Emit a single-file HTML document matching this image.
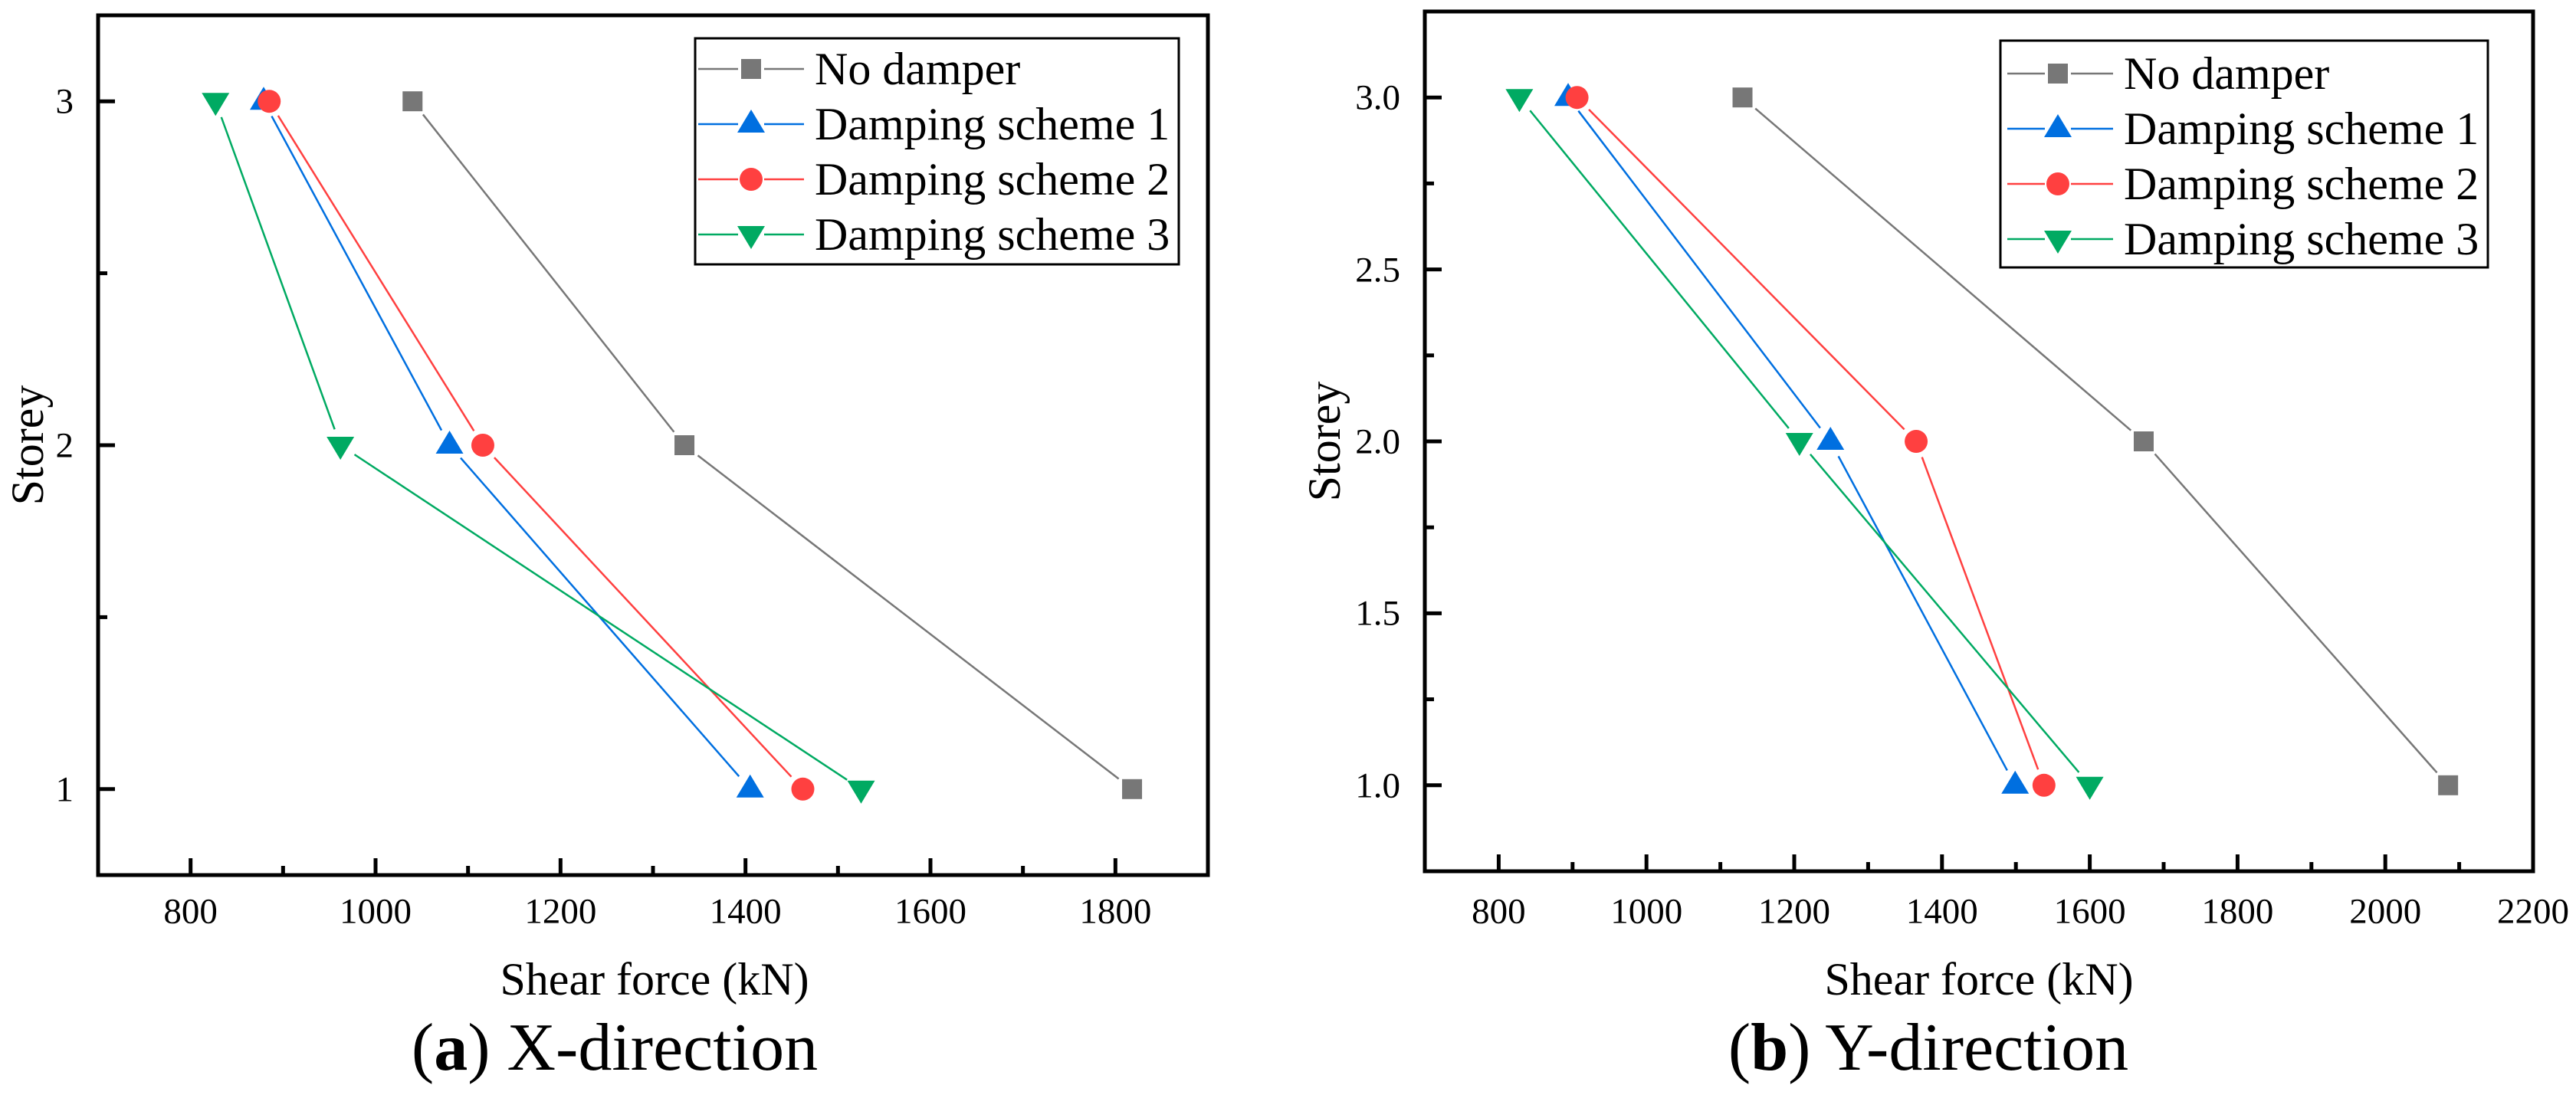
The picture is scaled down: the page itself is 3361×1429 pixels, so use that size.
<!DOCTYPE html>
<html><head><meta charset="utf-8"><style>
html,body{margin:0;padding:0;background:#fff;}
#wrap{position:relative;width:3361px;height:1429px;overflow:hidden;}
svg{display:block;position:absolute;left:0;top:0;}
.lbl{position:absolute;font-family:"Liberation Serif","Times New Roman",Times,serif;color:#000;white-space:nowrap;line-height:1;}
</style></head><body>
<div id="wrap">
<svg id="fig" width="3361" height="1429" viewBox="0 0 3361 1429" xmlns="http://www.w3.org/2000/svg">
<rect width="3361" height="1429" fill="#fff"/>
</svg>
</div>
<script>
const storeys = [3, 2, 1];
const seriesNames = ['No damper', 'Damping scheme 1', 'Damping scheme 2', 'Damping scheme 3'];
const xNoDamper = [1040, 1334, 1818];
const xScheme1 = [879, 1080, 1405];
const xScheme2 = [885, 1116, 1462];
const xScheme3 = [827, 962, 1525];
const yNoDamper = [1130, 1673, 2085];
const yScheme1 = [894, 1249, 1499];
const yScheme2 = [906, 1365, 1538];
const yScheme3 = [828, 1207, 1600];
const xTicksA = [800, 1000, 1200, 1400, 1600, 1800];
const yTicksA = [1, 2, 3];
const xTicksB = [800, 1000, 1200, 1400, 1600, 1800, 2000, 2200];
const yTicksB = [1.0, 1.5, 2.0, 2.5, 3.0];

const NS = 'http://www.w3.org/2000/svg';
const svg = document.getElementById('fig');
const wrap = document.getElementById('wrap');
const colors = ['#777777', '#006fe0', '#ff4040', '#00aa62'];
const markers = ['square', 'up', 'circle', 'down'];

function el(tag, attrs, parent) {
  const e = document.createElementNS(NS, tag);
  for (const k in attrs) e.setAttribute(k, attrs[k]);
  (parent || svg).appendChild(e);
  return e;
}
// HTML text label; anchor: 'start'|'middle'|'end'; y is baseline-ish centre
function label(html, x, cy, size, anchor, rotate) {
  const d = document.createElement('div');
  d.className = 'lbl';
  d.innerHTML = html;
  d.style.fontSize = size + 'px';
  d.style.left = x + 'px';
  d.style.top = cy + 'px';
  const tx = anchor === 'middle' ? '-50%' : anchor === 'end' ? '-100%' : '0';
  d.style.transform = (rotate ? `rotate(${rotate}deg) ` : '') + `translate(${tx},-50%)`;
  d.style.transformOrigin = '0 0';
  wrap.appendChild(d);
  return d;
}
function marker(g, type, cx, cy, color) {
  let m;
  if (type === 'square') m = el('rect', {x: cx - 13, y: cy - 13, width: 26, height: 26, fill: color}, g);
  else if (type === 'circle') m = el('circle', {cx: cx, cy: cy, r: 15, fill: color}, g);
  else if (type === 'up') m = el('polygon', {points: `${cx},${cy - 19} ${cx - 18},${cy + 11} ${cx + 18},${cy + 11}`, fill: color}, g);
  else m = el('polygon', {points: `${cx},${cy + 19} ${cx - 18},${cy - 11} ${cx + 18},${cy - 11}`, fill: color}, g);
  return m;
}

function panel(cfg) {
  const {L, R, T, B, xmin, xmax, ymin, ymax, xTicks, xMinor, yTicks, yMinor, yFmt, series, legend, tag, cap, capX, titleX, yTitleX, name} = cfg;
  const g = el('g', {});
  
  
  const sx = v => L + (v - xmin) / (xmax - xmin) * (R - L);
  const sy = v => B - (v - ymin) / (ymax - ymin) * (B - T);

  xTicks.forEach(v => {
    const t = el('line', {x1: sx(v), x2: sx(v), y1: B, y2: B - 22, stroke: '#000', 'stroke-width': 5}, g);
    
    
    const lb = label(String(v), sx(v), 1190, 47, 'middle');
    
    
  });
  xMinor.forEach(v => {
    const t = el('line', {x1: sx(v), x2: sx(v), y1: B, y2: B - 12, stroke: '#000', 'stroke-width': 5}, g);
    
    
  });
  yTicks.forEach(v => {
    const t = el('line', {x1: L, x2: L + 22, y1: sy(v), y2: sy(v), stroke: '#000', 'stroke-width': 5}, g);
    
    
    const lb = label(yFmt(v), L - 32, sy(v) + 1, 47, 'end');
    
    
  });
  yMinor.forEach(v => {
    const t = el('line', {x1: L, x2: L + 12, y1: sy(v), y2: sy(v), stroke: '#000', 'stroke-width': 5}, g);
    
    
  });

  series.forEach((xs, si) => {
    const sg = el('g', {}, g);
    
    
    for (let i = 0; i < xs.length - 1; i++) {
      const x1 = sx(xs[i]), y1 = sy(storeys[i]), x2 = sx(xs[i + 1]), y2 = sy(storeys[i + 1]);
      const d = Math.hypot(x2 - x1, y2 - y1), ux = (x2 - x1) / d, uy = (y2 - y1) / d, gap = 22;
      const ln = el('line', {x1: x1 + ux * gap, y1: y1 + uy * gap, x2: x2 - ux * gap, y2: y2 - uy * gap, stroke: colors[si], 'stroke-width': 2.5}, sg);
      
      
    }
    xs.forEach((v, i) => {
      const m = marker(sg, markers[si], sx(v), sy(storeys[i]), colors[si]);
      
      
    });
  });

  const fr = el('rect', {x: L, y: T, width: R - L, height: B - T, fill: 'none', stroke: '#000', 'stroke-width': 5}, g);
  
  

  const lg = el('g', {}, g);
  
  
  const lbx = el('rect', {x: legend.x, y: legend.y, width: legend.w, height: legend.h, fill: '#fff', stroke: '#000', 'stroke-width': 3}, lg);
  
  
  seriesNames.forEach((n, i) => {
    const ey = legend.y0 + i * 72;
    const eg = el('g', {}, lg);
    
    
    el('line', {x1: legend.lx, x2: legend.mx - 17, y1: ey, y2: ey, stroke: colors[i], 'stroke-width': 2.5}, eg);
    el('line', {x1: legend.mx + 17, x2: legend.lx + 138, y1: ey, y2: ey, stroke: colors[i], 'stroke-width': 2.5}, eg);
    marker(eg, markers[i], legend.mx, ey, colors[i]);
    const t = label(n, legend.tx, ey, 60, 'start');
    
    
  });

  const xt = label('Shear force (kN)', titleX, 1278, 60, 'middle');
  
  
  const yt = label('Storey', yTitleX - 22, (T + B) / 2, 60, 'middle', -90);
  
  
  const ct = label('(<b>' + tag + '</b>) ' + cap, capX, 1368, 88, 'middle');
  
  
}

panel({name: 'panel-x-direction', L: 128, R: 1576, T: 20, B: 1142, xmin: 700, xmax: 1900, ymin: 0.75, ymax: 3.25,
  xTicks: xTicksA, xMinor: [900, 1100, 1300, 1500, 1700], yTicks: yTicksA, yMinor: [1.5, 2.5], yFmt: v => String(v),
  series: [xNoDamper, xScheme1, xScheme2, xScheme3],
  legend: {x: 907, y: 50, w: 631, h: 295, y0: 90, lx: 911, mx: 980, tx: 1063},
  tag: 'a', cap: 'X-direction', capX: 802, titleX: 854, yTitleX: 58});

panel({name: 'panel-y-direction', L: 1859, R: 3305, T: 15, B: 1137, xmin: 700, xmax: 2200, ymin: 0.75, ymax: 3.25,
  xTicks: xTicksB, xMinor: [900, 1100, 1300, 1500, 1700, 1900, 2100], yTicks: yTicksB, yMinor: [1.25, 1.75, 2.25, 2.75], yFmt: v => v.toFixed(1),
  series: [yNoDamper, yScheme1, yScheme2, yScheme3],
  legend: {x: 2610, y: 53, w: 636, h: 296, y0: 96, lx: 2619, mx: 2685, tx: 2771},
  tag: 'b', cap: 'Y-direction', capX: 2516, titleX: 2582, yTitleX: 1750});
</script>
</body></html>
